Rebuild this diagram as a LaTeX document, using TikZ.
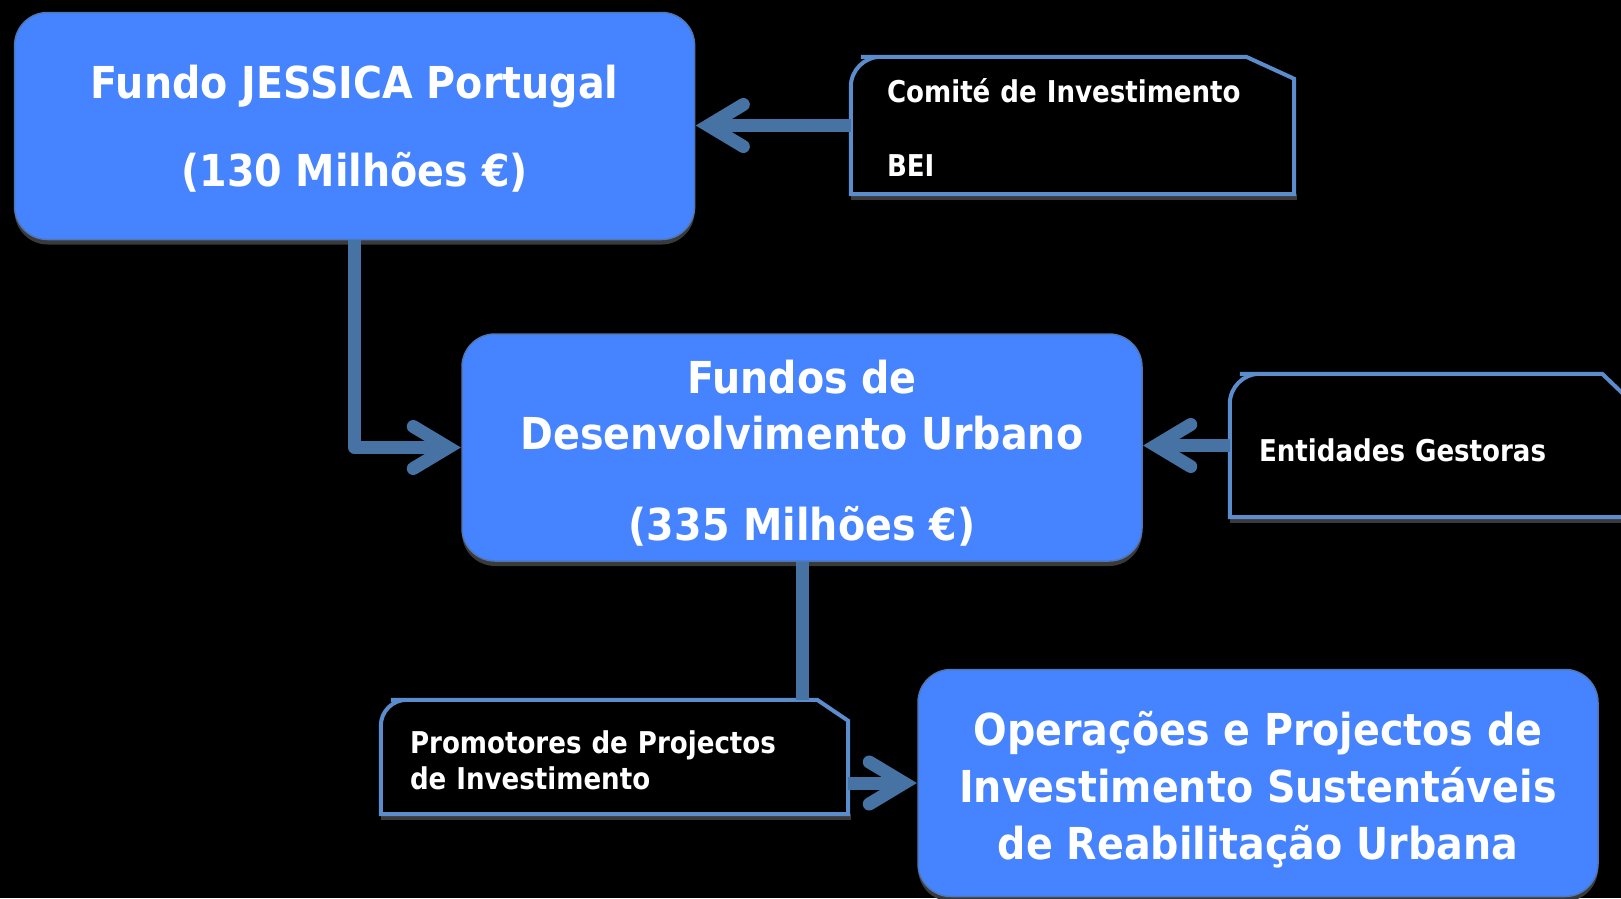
\documentclass[tikz,border=0pt]{standalone}
\usepackage{fontspec}
\setmainfont{DejaVu Sans}[FakeStretch=0.87]
\newfontfamily\bigfont{DejaVu Sans}[FakeStretch=0.90]
\usetikzlibrary{calc,shadows}
\definecolor{boxfill}{HTML}{4683FF}
\definecolor{boxedge}{HTML}{4E78B8}
\definecolor{connblue}{HTML}{4672A4}
\definecolor{calledge}{HTML}{5B8CCB}
\definecolor{shadegray}{HTML}{3A3A3A}
\newcommand\topgap[1]{\rule{0pt}{#1}}
\newcommand\calloutshape[4]{%
  \fill[shadegray] ($(#1.south west)+(0,0)$) rectangle ($(#1.south east)+(3,6)$);
  \draw[callline] (#1.south west) [rounded corners=#2] -- (#1.north west) -- ($(#1.north west)+(#2+10,0)$) [sharp corners]
    -- ($(#1.north east)+(-#3,0)$) -- ($(#1.north east)+(0,#4)$) -- (#1.south east) -- cycle;
}
\begin{document}
\begin{tikzpicture}[x=1pt,y=-1pt,
  bigbox/.style={draw=boxedge, line width=1.5pt, fill=boxfill, rounded corners=33pt,
    minimum width=680pt, minimum height=227pt, inner sep=0pt, text=white, align=center,
    font=\bigfont\bfseries\fontsize{44}{56}\selectfont,
    drop shadow={shadow xshift=0pt, shadow yshift=-5pt, fill=shadegray, opacity=1}},
  callarea/.style={inner ysep=0pt, text=white, align=left,
    font=\bfseries\fontsize{30}{36}\selectfont},
  callline/.style={draw=calledge, line width=4pt},
  connline/.style={draw=connblue, line width=13pt},
  chevron/.style={draw=connblue, line width=13pt, line cap=round, line join=miter},
  chevtip/.pic={\draw[chevron] (-35,-21) -- (0,0) -- (-35,21);}
]
\useasboundingbox (0,0) rectangle (1621,898);
\fill[black] (0,0) rectangle (1621,898);

% callout areas (anchors for outlines and connectors)
\node[callarea, minimum height=137pt, inner xsep=36pt, text width=371pt] (c1) at (1072.5,125.5)
  {\topgap{27.5pt}Comité de Investimento\\[38pt]BEI};
\node[callarea, minimum height=143pt, inner xsep=29pt, text width=362pt] (c2) at (1440,445.5)
  {\topgap{33pt}Entidades Gestoras};
\node[callarea, minimum height=114pt, inner xsep=29pt, text width=409pt] (c3) at (614.5,757)
  {\topgap{29pt}Promotores de Projectos\\de Investimento};

% main boxes
\node[bigbox] (b1) at (354.6,126) {\topgap{39.5pt}Fundo JESSICA Portugal\\[32pt](130 Milhões €)};
\node[bigbox] (b2) at (802,447.5) {\topgap{44pt}Fundos de\\Desenvolvimento Urbano\\[35pt](335 Milhões €)};
\node[bigbox, font=\bigfont\bfseries\fontsize{44}{57}\selectfont] (b3) at (1258,783)
  {\topgap{48pt}Operações e Projectos de\\Investimento Sustentáveis\\de Reabilitação Urbana};

% callout outlines
\calloutshape{c1}{30}{48}{22}
\calloutshape{c2}{30}{48}{46}
\calloutshape{c3}{26}{31}{21}

% connectors
\draw[connline] (c1.west) -- ($(c1.west -| b1.east)+(14,0)$);
\pic[rotate=180] at ($(c1.west -| b1.east)+(13,0)$) {chevtip};

\draw[connline, line join=round] (b1.south) |- ($(b2.west)+(-14,0)$);
\pic at ($(b2.west)+(-13,0)$) {chevtip};

\draw[connline] (c2.west) -- ($(c2.west -| b2.east)+(14,0)$);
\pic[rotate=180] at ($(c2.west -| b2.east)+(13,0)$) {chevtip};

\draw[connline] (b2.south) -- (b2.south |- c3.north);

\draw[connline] (c3.east |- b3.west) -- ($(b3.west)+(-14,0)$);
\pic at ($(b3.west)+(-13,0)$) {chevtip};
\end{tikzpicture}
\end{document}
